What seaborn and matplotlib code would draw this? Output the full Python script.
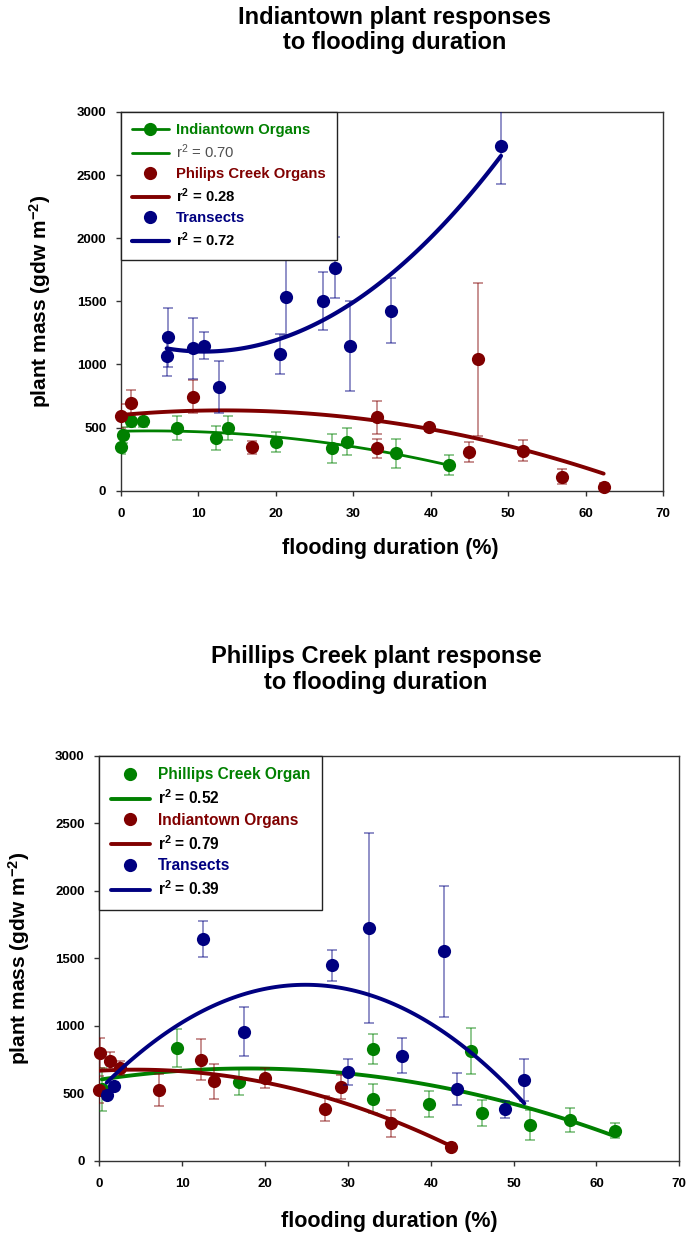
import numpy as np
import pandas as pd
import matplotlib
matplotlib.use("Agg")
import matplotlib.pyplot as plt
import seaborn as sns
from matplotlib.lines import Line2D

# ---------------- data : top panel (Indiantown) ----------------
top_green_x = [0.0, 0.2, 1.25, 2.8, 7.2, 12.3, 13.85, 19.97, 27.2, 29.2, 35.5, 42.4]
top_green_y = [349, 441, 555, 555, 500, 415, 500, 383, 336, 388, 296, 204]
top_green_e = [60, 60, 50, 50, 95, 95, 95, 80, 115, 105, 115, 80]

top_red_x = [0.0, 1.25, 9.3, 16.9, 33.0, 33.0, 39.8, 44.9, 46.1, 51.9, 56.9, 62.3]
top_red_y = [594, 697, 745, 344, 582, 336, 502, 309, 1041, 317, 111, 32]
top_red_e = [95, 100, 132, 50, 130, 75, 30, 80, 605, 83, 58, 30]

top_blue_x = [5.9, 6.1, 9.3, 10.75, 12.7, 20.5, 21.3, 26.1, 27.6, 29.5, 34.85, 49.05]
top_blue_y = [1067, 1215, 1128, 1149, 824, 1083, 1537, 1506, 1767, 1147, 1426, 2734]
top_blue_e = [158, 232, 242, 107, 207, 156, 300, 230, 242, 357, 257, 307]

top_labels = ["Indiantown Organs", r"r$^2$ = 0.70", "Philips Creek Organs",
              r"$\mathbf{r}^{\mathbf{2}}$ = 0.28", "Transects", r"$\mathbf{r}^{\mathbf{2}}$ = 0.72"]
top_title = "Indiantown plant responses\nto flooding duration"

# ---------------- data : bottom panel (Phillips Creek) ----------------
bot_green_x = [0.3, 9.34, 16.8, 33.07, 33.07, 39.8, 44.86, 46.15, 51.98, 56.8, 62.2]
bot_green_y = [530, 836, 580, 828, 459, 419, 811, 352, 265, 303, 221]
bot_green_e = [160, 140, 97, 110, 108, 95, 170, 97, 112, 90, 56]

bot_red_x = [0.08, 0.0, 1.29, 2.5, 7.2, 12.27, 13.9, 20.0, 27.2, 29.2, 35.2, 42.4]
bot_red_y = [799, 526, 736, 687, 526, 749, 588, 613, 384, 546, 278, 104]
bot_red_e = [110, 100, 70, 50, 118, 151, 129, 74, 93, 92, 99, 30]

bot_blue_x = [0.89, 1.77, 12.55, 17.46, 28.1, 29.97, 32.6, 36.5, 41.6, 43.2, 48.96, 51.3]
bot_blue_y = [489, 556, 1641, 955, 1448, 655, 1723, 779, 1550, 533, 382, 595]
bot_blue_e = [30, 30, 132, 183, 115, 97, 703, 129, 487, 120, 62, 155]

bot_labels = ["Phillips Creek Organ", r"$\mathbf{r}^{\mathbf{2}}$ = 0.52", "Indiantown Organs",
              r"$\mathbf{r}^{\mathbf{2}}$ = 0.79", "Transects", r"$\mathbf{r}^{\mathbf{2}}$ = 0.39"]
bot_title = "Phillips Creek plant response\nto flooding duration"

x_ticks = [0, 10, 20, 30, 40, 50, 60, 70]
y_ticks = [0, 500, 1000, 1500, 2000, 2500, 3000]
x_label = "flooding duration (%)"
y_label = r"plant mass (gdw m$^{\mathbf{-2}}$)"

# ---------------- style ----------------
sns.set_style("ticks")
plt.rcParams['font.family'] = ['Liberation Sans', 'DejaVu Sans']
plt.rcParams['mathtext.fontset'] = 'custom'
plt.rcParams['mathtext.rm'] = 'Liberation Sans'
plt.rcParams['mathtext.it'] = 'Liberation Sans:italic'
plt.rcParams['mathtext.bf'] = 'Liberation Sans:bold'
plt.rcParams['text.color'] = 'black'
plt.rcParams['axes.labelcolor'] = 'black'
plt.rcParams['xtick.color'] = 'black'
plt.rcParams['ytick.color'] = 'black'

GREEN = '#008000'
RED = '#800000'
BLUE = '#000080'
MS = 9.5

fig = plt.figure(figsize=(6.89, 12.36), dpi=100)
ax1 = fig.add_axes([121 / 689, 1 - 490.7 / 1236, (663.3 - 121) / 689, (490.7 - 112) / 1236])
ax2 = fig.add_axes([99.3 / 689, 1 - 1160.7 / 1236, (679.3 - 99.3) / 689, (1160.7 - 755.7) / 1236])


def draw_series(ax, x, y, err, color, lw, z):
    df = pd.DataFrame({'x': x, 'y': y})
    ax.errorbar(x, y, yerr=err, fmt='none', ecolor=color, alpha=0.55, elinewidth=1.1,
                capsize=3.6, capthick=1.1, zorder=z)
    sns.regplot(data=df, x='x', y='y', order=2, ci=None, scatter=False, truncate=True, ax=ax,
                line_kws=dict(color=color, lw=lw, zorder=z + 0.2))
    sns.scatterplot(data=df, x='x', y='y', ax=ax, color=color, s=MS ** 2, linewidth=0,
                    zorder=z + 0.1, clip_on=False, legend=False)


draw_series(ax1, top_green_x, top_green_y, top_green_e, GREEN, 2.0, 3)
draw_series(ax1, top_red_x, top_red_y, top_red_e, RED, 2.8, 4)
draw_series(ax1, top_blue_x, top_blue_y, top_blue_e, BLUE, 3.0, 5)

draw_series(ax2, bot_green_x, bot_green_y, bot_green_e, GREEN, 2.8, 3)
draw_series(ax2, bot_red_x, bot_red_y, bot_red_e, RED, 2.8, 4)
draw_series(ax2, bot_blue_x, bot_blue_y, bot_blue_e, BLUE, 2.8, 5)

for ax in (ax1, ax2):
    ax.set_xlim(0, 70)
    ax.set_ylim(0, 3000)
    ax.set_xticks(x_ticks)
    ax.set_yticks(y_ticks)
    ax.tick_params(axis='both', direction='out', length=3.6, width=1, color='#333333',
                   labelcolor='black', labelsize=9.5, top=False, right=False)
    ax.tick_params(axis='x', pad=9)
    ax.tick_params(axis='y', pad=7)
    for lab in ax.get_xticklabels() + ax.get_yticklabels():
        lab.set_fontweight('bold')
    for sp in ax.spines.values():
        sp.set_visible(True)
        sp.set_color('#333333')
        sp.set_linewidth(1.0)
    ax.set_xlabel(x_label, fontsize=15.5, fontweight='bold', va='center', color='black')
    ax.set_ylabel(y_label, fontsize=15, fontweight='bold', va='center', color='black')

ax1.xaxis.set_label_coords(0.496, -0.153)
ax1.yaxis.set_label_coords(-0.149, 0.5)
ax2.xaxis.set_label_coords(0.5, -0.149)
ax2.yaxis.set_label_coords(-0.138, 0.5)


def make_legend(ax, labels, lws, first_has_line, fs, hl, text_styles):
    handles = []
    colors = [GREEN, RED, BLUE]
    for i, c in enumerate(colors):
        if i == 0 and first_has_line:
            handles.append(Line2D([], [], color=c, lw=lws[i], marker='o', ms=MS, mew=0))
        else:
            handles.append(Line2D([], [], color=c, ls='none', marker='o', ms=MS, mew=0))
        handles.append(Line2D([], [], color=c, lw=lws[i]))
    leg = ax.legend(handles, labels, loc='upper left', bbox_to_anchor=(0, 1), borderaxespad=0,
                    fontsize=fs, frameon=True, fancybox=False, framealpha=1, handlelength=hl,
                    handletextpad=0.5, labelspacing=0.38, borderpad=0.75)
    leg.get_frame().set_edgecolor('#222222')
    leg.get_frame().set_linewidth(1.0)
    leg.set_zorder(10)
    for t, (col, wt) in zip(leg.get_texts(), text_styles):
        t.set_color(col)
        t.set_fontweight(wt)
    return leg


make_legend(ax1, top_labels, [2.0, 2.8, 3.0], True, 10.7, 2.45,
            [(GREEN, 'bold'), ('#505050', 'normal'), (RED, 'bold'), ('black', 'bold'),
             (BLUE, 'bold'), ('black', 'bold')])
make_legend(ax2, bot_labels, [2.8, 2.8, 2.8], False, 11.2, 2.5,
            [(GREEN, 'bold'), ('black', 'bold'), (RED, 'bold'), ('black', 'bold'),
             (BLUE, 'bold'), ('black', 'bold')])

fig.text(395 / 689, 1 - 30 / 1236, top_title, ha='center', va='center', fontsize=17,
         fontweight='bold', linespacing=1.1, multialignment='center', color='black')
fig.text(376 / 689, 1 - 669.5 / 1236, bot_title, ha='center', va='center', fontsize=17,
         fontweight='bold', linespacing=1.15, multialignment='center', color='black')

fig.savefig("out.png", dpi=100, facecolor='white')
